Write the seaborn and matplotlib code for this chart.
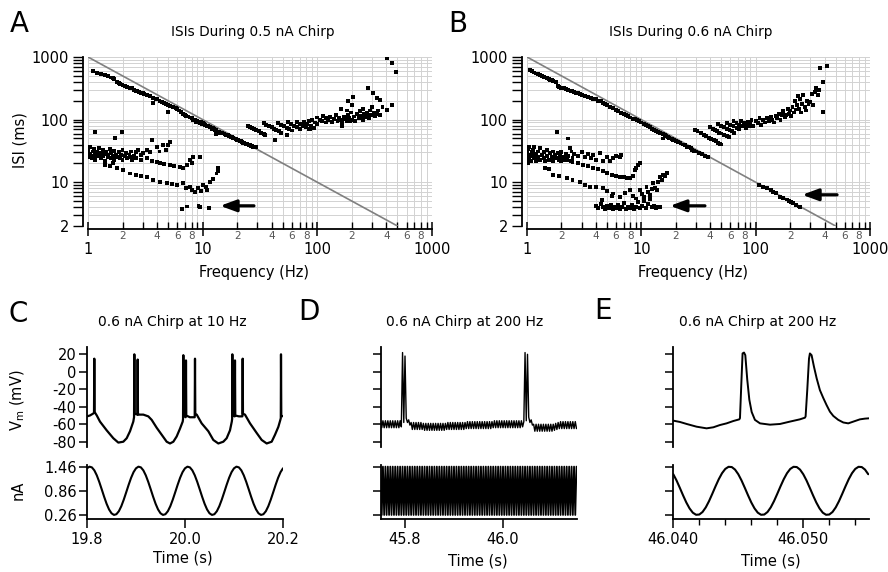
import numpy as np
import pandas as pd
import matplotlib
matplotlib.use("Agg")
import matplotlib.pyplot as plt
import matplotlib.ticker as mticker
import seaborn as sns

# ======================= DATA =======================
# Panel A - ISIs during 0.5 nA chirp: (frequency Hz, ISI ms)
a_band = [(1.1,600),(1.2,560),(1.25,545),(1.3,540),(1.4,510),(1.5,500),(1.6,470),(1.65,455),(1.7,440),
          (1.8,400),(1.85,390),(1.9,375),(2.0,360),(2.1,345),(2.2,330),(2.3,325),(2.4,315),(2.5,300),
          (2.6,290),(2.7,285),(2.8,275),(2.9,270),(3.0,262),(3.1,255),(3.3,245),(3.5,235),(3.7,225),
          (3.7,182),(3.9,215),(4.0,210),(4.2,200),(4.4,192),(4.6,185),(4.8,175),(5.0,170),(5.0,134),
          (5.2,165),(5.5,160),(5.8,152),(6.0,148),(6.2,140),(6.5,132),(6.8,125),(7.0,120),(7.2,115),
          (7.5,112),(7.8,108),(8.0,105),(8.2,100),(8.5,98),(8.7,90),(9.0,95),(9.3,92),(9.5,88),(9.7,92),
          (9.8,85),(10,88),(10.2,84),(10.5,82),(10.8,80),(11,80),(11.2,78),(11.5,76),(12,72),(12.2,74),
          (12.5,70),(12.8,68),(13,68),(13.2,66),(13.5,62),(13,58),(13.8,64),(14,64),(14.2,62),(14.5,62),
          (14.8,61),(15,60),(15.5,59),(16,57),(16.5,56),(17,54),(17.5,53),(18,52),(18.5,51),(19,50),
          (19.5,49),(20,48),(20.5,47),(21,46),(21.5,45),(22,44),(22.5,43),(23,42),(23.5,41.5),(24,41),
          (24.5,40.5),(25,40),(25.5,39),(26,39),(26.5,38),(27,38),(27.5,37),(28,37),(28.5,36.5),(29,36)]
a_right = [(25,80),(26,77),(27,74),(28,71),(29,69),(30,67),(31,65),(32,62),(33,60),(34,59),(35,57),
           (34,88),(36,83),(38,79),(40,75),(42,71),(44,68),(46,65),(48,62),
           (45,89),(48,83),(51,78),(54,74),(57,70),(60,67),
           (55,91),(59,85),(63,79),(67,75),(71,70),
           (66,91),(70,86),(75,80),(80,75),(84,71),
           (77,91),(82,85),(88,80),(94,74),
           (43,47),(54,57),(86,71),(163,79),(192,96),
           (85,95),(90,100),(95,90),(100,108),(100,85),(105,100),(110,95),(112,115),(118,90),(120,105),
           (125,98),(130,110),(135,92),(140,102),(145,120),(150,95),(155,108),(160,100),(165,88),
           (170,112),(175,104),(180,95),(185,118),(190,108),(195,130),(200,100),(210,112),(215,95),
           (220,122),(230,105),(235,135),(240,115),(250,100),(255,125),(260,110),(270,130),(275,118),
           (280,105),(290,140),(300,120),(310,130),(320,115),(330,125),(340,140),(350,120),(300,160),
           (250,150),(200,170),(180,140),(160,150),(205,230),(185,200),
           (278,316),(306,263),(330,218),(355,208),(370,161),(402,142),(450,171),
           (402,953),(444,793),(485,582)]
a_low = [(1.0,27),(1.0,30),(1.0,33),(1.02,25),(1.05,36),(1.05,28),(1.08,24),(1.1,31),(1.1,26),
         (1.13,34),(1.15,28),(1.15,23),(1.2,30),(1.2,26),(1.25,35),(1.25,27),(1.3,24),(1.3,29),
         (1.35,33),(1.35,26),(1.4,22),(1.4,28),(1.45,31),(1.5,25),(1.5,27),(1.55,34),(1.6,24),
         (1.6,29),(1.65,26),(1.7,23),(1.7,32),(1.75,27),(1.8,25),(1.85,30),(1.9,24),(1.95,27),
         (2.0,23),(2.0,33),(2.1,26),(2.15,29),(2.2,24),(2.3,27),(2.35,31),(2.4,23),(2.5,26),
         (1.15,63),(1.72,51),(1.98,63),(3.6,47),(5.0,40),
         (2.75,33),(3.0,29),(3.25,33),(3.5,30),(3.97,37),(4.2,31),(4.53,39),(4.8,33),(5.0,39),
         (5.2,44),(2.6,30),(2.9,27),
         (2.32,25.6),(2.6,24.5),(2.9,23),(3.25,24),(3.6,22),(4.0,21),(4.24,20),(4.6,19.5),(5.2,18.8),
         (5.6,18),(6.3,17.7),(6.8,17),(7.25,18.8),(7.7,22.5),(8.3,25.6),(8.0,20),(9.5,25.6),
         (1.4,19),(1.55,18),(1.66,20),(1.8,17),(2.03,15.6),(2.32,13.8),(2.6,13),(2.9,12.5),
         (3.25,12.2),(3.7,11),(4.24,10.1),(4.86,9.6),(5.4,9.3),(5.94,9.1),(6.8,9.6),(7.2,8.2),
         (7.7,8.5),(8.0,7.6),(8.6,7.1),(9.15,8.0),(9.6,7.3),(10.1,9.1),(10.6,8.4),(11.0,7.6),
         (11.6,10.1),(12.4,11.4),(13.2,13.8),(13.7,16.7),(13.5,15),
         (6.6,3.8),(7.25,4.1),(9.2,4.2),(9.5,4.0),(11.3,3.9)]

# Panel B - ISIs during 0.6 nA chirp: (frequency Hz, ISI ms)
b_band = [(1.06,620),(1.1,590),(1.15,565),(1.2,545),(1.25,530),(1.3,510),(1.35,495),(1.4,480),
          (1.45,470),(1.5,460),(1.55,445),(1.6,432),(1.65,425),(1.7,415),(1.8,400),(1.85,340),
          (1.9,332),(2.0,322),(2.1,315),(2.2,305),(2.3,300),(2.4,290),(2.5,285),(2.6,280),(2.7,270),
          (2.8,265),(2.9,258),(3.0,250),(3.2,240),(3.4,230),(3.6,220),(3.8,215),(4.0,210),(4.2,200),
          (4.4,195),(4.6,185),(4.8,178),(5.0,170),(5.3,160),(5.6,152),(6.0,142),(6.3,135),(6.6,129),
          (7.0,122),(7.3,117),(7.6,113),(8.0,108),(8.4,104),(8.8,101),(9.2,98),(9.6,94),(10,90),
          (10.5,86),(11,82),(11.5,78),(12,75),(12.5,72),(13,69),(13.5,66),(14,63),(14.5,61),(15,60),
          (15.5,58),(15.6,50),(16,56),(16.5,54),(17,53),(17.5,51),(18,50),(18.5,49),(19,48),
          (19.5,47),(20,46),(21,44),(22,42),(23,40),(24,39),(25,37),(26,36),(27,35),(28,33),(29,32),
          (30,31),(32,29.5),(34,28),(36,26.5),(38,25)]
b_right = [(29.5,68),(31,65),(33,61),(35,57),(37,54),(39,51),(41,49),(43,47),(45,45),(47,43),(49,41),
           (50,40),(40,75),(42,71),(44,68),(46,65),(48,62),(50,60),(53,57),(56,54),(58,52),
           (47,85),(50,80),(53,75),(56,71),(59,68),(62,65),(65,62),
           (56,89),(60,83),(64,78),(68,74),(72,70),
           (64,94),(68,88),(72,83),(77,78),(82,73),
           (74,95),(79,89),(84,83),(90,78),
           (85,92),(90,85),(92,100),(95,80),(100,95),(105,88),(108,105),(112,82),(115,98),(120,90),
           (125,105),(130,95),(135,110),(140,100),(145,90),(150,115),(155,105),(160,125),(165,100),
           (170,118),(175,135),(180,110),(185,120),(190,150),(195,125),(200,140),(205,115),(210,160),
           (215,130),(220,200),(225,145),(230,170),(235,240),(240,150),(245,210),(250,130),(255,180),
           (260,250),(270,160),(275,140),(280,200),(290,175),(300,190),(310,260),(320,170),(330,280),
           (340,320),(350,250),(360,300),(366,667),(417,707),(390,403),(390,134)]
b_tail = [(106,9.0),(115,8.5),(125,8.0),(135,7.5),(143,7.1),(150,6.8),(164,5.9),(175,5.6),(187,5.3),
          (195,5.0),(205,4.8),(214,4.6),(225,4.4),(237,4.1),(245,4.0)]
b_low = [(1.0,22),(1.0,25),(1.0,28),(1.0,31),(1.02,20),(1.02,34),(1.05,24),(1.05,27),(1.05,37),
         (1.08,22),(1.1,30),(1.1,26),(1.12,33),(1.15,24),(1.15,36),(1.2,28),(1.2,22),(1.25,31),
         (1.25,25),(1.3,35),(1.3,23),(1.35,27),(1.4,30),(1.4,24),(1.45,22),(1.5,33),(1.5,26),
         (1.55,23),(1.6,29),(1.65,25),(1.7,31),(1.7,22),(1.75,27),(1.8,24),(1.85,29),(1.9,23),
         (1.95,26),(2.0,30),(2.0,22),(2.1,25),(2.2,28),(2.25,23),(2.3,26),(2.4,22),(2.45,31),(2.5,24),
         (1.82,64),(2.3,50),
         (2.38,35),(2.6,28),(2.8,26),(3.0,30),(3.2,25),(3.4,28),(3.6,24),(3.8,27),(4.0,23),(4.35,29),
         (4.6,22),(5.0,25),(5.3,22),(5.6,24),(6.0,26),(6.5,25.6),(6.6,27),
         (2.08,22.6),(2.5,21),(2.8,20),(3.1,19),(3.4,18),(3.8,17),(4.2,16),(4.6,15),(5.0,14),(5.5,13),
         (6.0,12.5),(6.5,12.2),(7.0,12),(7.5,11.5),(7.95,11.5),(8.4,12.5),(8.8,15.6),(9.4,18.8),
         (9.8,20),(9.0,17),
         (1.44,16.7),(1.55,16),(1.7,13),(1.9,12.5),(2.22,11.5),(2.5,10.8),(2.9,10.1),(3.2,9.0),
         (3.56,8.5),(4.0,8.4),(4.65,8.0),(5.0,7.2),(4.5,5.2),(5.5,6.0),
         (4.0,4.2),(4.2,3.9),(4.4,4.5),(4.6,4.0),(4.8,3.8),(5.0,4.2),(5.2,3.9),(5.4,4.4),(5.6,3.8),
         (5.8,4.1),(6.0,3.9),(6.2,4.3),(6.5,3.8),(6.8,4.0),(7.0,4.6),(7.3,3.8),(7.6,4.1),(8.0,3.9),
         (8.3,4.4),(8.6,3.8),(9.0,4.0),(9.4,4.8),(9.8,3.9),(10.2,4.2),(10.6,5.0),(11,3.9),(11.5,4.5),
         (12,5.4),(12.5,4.0),(13,4.2),(13.5,3.9),(14,4.1),(14.5,4.0),
         (5.7,6.6),(6.5,5.9),(7.2,6.8),(7.95,7.4),(8.5,6.0),(9.0,5.5),(9.7,7.4),(10.2,6.4),(10.5,5.8),
         (11.1,8.5),(11.5,7.0),(12,6.2),(12.3,7.8),(12.7,9.6),(13.2,8.2),(13.6,7.4),(14,10),
         (14.6,12.2),(15.1,11),(15.6,13),(16.2,12.5),(16.7,13.9)]

# ISI = period reference line
ref_freq = [1, 500]
ref_isi = [1000, 2]

# Arrows (tail, tip) in data units
arrows_a = [((28, 4.2), (14.2, 4.2))]
arrows_b = [((36, 4.2), (17.8, 4.2)), ((515, 6.3), (255, 6.3))]

freq_major_ticks = [1, 10, 100, 1000]
isi_major_ticks = [2, 10, 100, 1000]

# Panel C - 0.6 nA chirp at 10 Hz: membrane potential (s, mV)
c_vm = [(19.800,-51),(19.806,-50),(19.812,-48),(19.8143,-47),(19.8149,15),(19.8155,-46),(19.8200,-50),
        (19.8265,-57),(19.8402,-67),(19.8537,-76),(19.8639,-81),(19.8741,-80),(19.8810,-76),
        (19.8878,-68),(19.8945,-57),(19.8960,-52),
        (19.8966,20),(19.8972,-48),(19.9028,-49),(19.9034,14),(19.9040,-48),
        (19.9047,-49),(19.9149,-49),(19.9251,-51),(19.9320,-55),(19.9422,-64),(19.9524,-72),
        (19.9626,-80),(19.9694,-82),(19.9762,-80),(19.9830,-74),(19.9898,-65),(19.9953,-57),
        (19.9960,-54),
        (19.9966,19),(19.9972,-50),(20.0014,-52),(20.0020,13),(20.0026,-50),(20.0100,-52),
        (20.0198,-52),(20.0204,15),(20.0210,-48),
        (20.0239,-49),(20.0340,-59),(20.0476,-68),(20.0578,-78),(20.0680,-82),(20.0782,-80),
        (20.0850,-76),(20.0918,-67),(20.0955,-57),(20.0962,-54),
        (20.0966,20),(20.0972,-50),(20.1014,-51),(20.1020,13),(20.1026,-50),(20.1100,-51),
        (20.1171,-51),(20.1177,15),(20.1183,-48),
        (20.1224,-49),(20.1327,-59),(20.1463,-70),(20.1565,-78),(20.1667,-82),(20.1769,-80),
        (20.1837,-72),(20.1905,-63),(20.1946,-55),(20.1955,-53),
        (20.1959,20),(20.1965,-50),(20.2000,-51)]
# Panel C - injected current, sampled every 5 ms from 19.800 s (nA)
c_t0 = 19.800
c_cur_ms = [0,5,10,15,20,25,30,35,40,45,50,55,60,65,70,75,80,85,90,95,
            100,105,110,115,120,125,130,135,140,145,150,155,160,165,170,175,180,185,190,195,
            200,205,210,215,220,225,230,235,240,245,250,255,260,265,270,275,280,285,290,295,
            300,305,310,315,320,325,330,335,340,345,350,355,360,365,370,375,380,385,390,395,
            400]
c_cur = [1.418,1.459,1.441,1.367,1.243,1.081,0.898,0.711,0.538,0.397,
         0.302,0.261,0.279,0.353,0.477,0.639,0.822,1.009,1.182,1.323,
         1.418,1.459,1.441,1.367,1.243,1.081,0.898,0.711,0.538,0.397,
         0.302,0.261,0.279,0.353,0.477,0.639,0.822,1.009,1.182,1.323,
         1.418,1.459,1.441,1.367,1.243,1.081,0.898,0.711,0.538,0.397,
         0.302,0.261,0.279,0.353,0.477,0.639,0.822,1.009,1.182,1.323,
         1.418,1.459,1.441,1.367,1.243,1.081,0.898,0.711,0.538,0.397,
         0.302,0.261,0.279,0.353,0.477,0.639,0.822,1.009,1.182,1.323,
         1.418]

# Panel D - 0.6 nA chirp at 200 Hz, samples every 2.5 ms from 45.750 s
d_t0 = 45.750
d_ms = [0,2.5,5,7.5,10,12.5,15,17.5,20,22.5,25,27.5,30,32.5,35,37.5,40,42.5,45,47.5,
        50,52.5,55,57.5,60,62.5,65,67.5,70,72.5,75,77.5,80,82.5,85,87.5,90,92.5,95,97.5,
        100,102.5,105,107.5,110,112.5,115,117.5,120,122.5,125,127.5,130,132.5,135,137.5,140,142.5,145,147.5,
        150,152.5,155,157.5,160,162.5,165,167.5,170,172.5,175,177.5,180,182.5,185,187.5,190,192.5,195,197.5,
        200,202.5,205,207.5,210,212.5,215,217.5,220,222.5,225,227.5,230,232.5,235,237.5,240,242.5,245,247.5,
        250,252.5,255,257.5,260,262.5,265,267.5,270,272.5,275,277.5,280,282.5,285,287.5,290,292.5,295,297.5,
        300,302.5,305,307.5,310,312.5,315,317.5,320,322.5,325,327.5,330,332.5,335,337.5,340,342.5,345,347.5,
        350,352.5,355,357.5,360,362.5,365,367.5,370,372.5,375,377.5,380,382.5,385,387.5,390,392.5,395,397.5,
        400]
d_vm = [-56,-64,-56,-64,-56,-64,-56,-64,-56,-64,
        -56,-64,-56,-64,-56,-64,-56,-63,22,-58,
        18,-53,-58,-55,-61,-58,-66,-58,-66,-58,
        -66,-58,-66,-58,-66,-59,-67,-59,-67,-59,
        -67,-59,-67,-59,-67,-59,-67,-59,-67,-59,
        -67,-59,-67,-59,-66,-58,-66,-58,-66,-58,
        -66,-58,-66,-58,-66,-58,-66,-58,-66,-58,
        -65,-57,-65,-57,-65,-57,-65,-57,-65,-57,
        -65,-57,-65,-57,-65,-57,-65,-57,-65,-57,
        -65,-57,-64,-56,-64,-56,-64,-56,-64,-56,
        -64,-56,-64,-56,-64,-56,-64,-56,-64,-56,
        -64,-56,-64,-56,-64,-56,-63,-57,22,-56,
        20,-52,-58,-55,-61,-60,-68,-60,-68,-60,
        -68,-60,-68,-60,-68,-60,-68,-60,-68,-60,
        -68,-60,-67,-59,-66,-58,-65,-57,-65,-57,
        -65,-57,-65,-57,-65,-57,-65,-57,-65,-57,
        -65]
d_cur = [1.46,0.26,1.46,0.26,1.46,0.26,1.46,0.26,1.46,0.26,1.46,0.26,1.46,0.26,1.46,0.26,1.46,0.26,1.46,0.26,
         1.46,0.26,1.46,0.26,1.46,0.26,1.46,0.26,1.46,0.26,1.46,0.26,1.46,0.26,1.46,0.26,1.46,0.26,1.46,0.26,
         1.46,0.26,1.46,0.26,1.46,0.26,1.46,0.26,1.46,0.26,1.46,0.26,1.46,0.26,1.46,0.26,1.46,0.26,1.46,0.26,
         1.46,0.26,1.46,0.26,1.46,0.26,1.46,0.26,1.46,0.26,1.46,0.26,1.46,0.26,1.46,0.26,1.46,0.26,1.46,0.26,
         1.46,0.26,1.46,0.26,1.46,0.26,1.46,0.26,1.46,0.26,1.46,0.26,1.46,0.26,1.46,0.26,1.46,0.26,1.46,0.26,
         1.46,0.26,1.46,0.26,1.46,0.26,1.46,0.26,1.46,0.26,1.46,0.26,1.46,0.26,1.46,0.26,1.46,0.26,1.46,0.26,
         1.46,0.26,1.46,0.26,1.46,0.26,1.46,0.26,1.46,0.26,1.46,0.26,1.46,0.26,1.46,0.26,1.46,0.26,1.46,0.26,
         1.46,0.26,1.46,0.26,1.46,0.26,1.46,0.26,1.46,0.26,1.46,0.26,1.46,0.26,1.46,0.26,1.46,0.26,1.46,0.26,
         1.46]

# Panel E - zoom of D, offsets in ms from 46.040 s
e_t0 = 46.040
e_vm = [(0,-55.9),(0.51,-57.4),(1.03,-59.7),(1.79,-62.8),(2.56,-64.7),(3.08,-63.5),(3.59,-60.9),
        (4.10,-59.0),(4.62,-56.3),(5.08,-54.4),(5.13,-53),(5.23,-15),(5.33,21),(5.44,22),(5.54,19),
        (5.69,-9),(5.85,-32),(6.03,-46),(6.28,-55),(6.67,-59),(7.44,-60.5),(8.21,-59.7),(8.97,-57),
        (9.74,-54.4),(10.13,-52.5),(10.18,-51),(10.31,-20),(10.44,15),(10.51,21),(10.64,19),
        (10.82,6),(11.03,-7.5),(11.28,-21),(11.54,-30),(11.79,-38),(12.05,-45.6),(12.31,-50.5),
        (12.69,-55),(13.08,-58),(13.46,-59),(13.85,-57),(14.36,-54.4),(14.74,-53.6),(15.08,-53.2)]
e_cur_ms = [0,0.25,0.5,0.75,1,1.25,1.5,1.75,2,2.25,2.5,2.75,3,3.25,3.5,3.75,4,4.25,4.5,4.75,
            5,5.25,5.5,5.75,6,6.25,6.5,6.75,7,7.25,7.5,7.75,8,8.25,8.5,8.75,9,9.25,9.5,9.75,
            10,10.25,10.5,10.75,11,11.25,11.5,11.75,12,12.25,12.5,12.75,13,13.25,13.5,13.75,14,14.25,14.5,14.75,
            15]
e_cur = [1.271,1.116,0.935,0.748,0.571,0.423,0.317,0.265,0.271,0.334,
         0.449,0.604,0.785,0.972,1.149,1.297,1.403,1.455,1.449,1.386,
         1.271,1.116,0.935,0.748,0.571,0.423,0.317,0.265,0.271,0.334,
         0.449,0.604,0.785,0.972,1.149,1.297,1.403,1.455,1.449,1.386,
         1.271,1.116,0.935,0.748,0.571,0.423,0.317,0.265,0.271,0.334,
         0.449,0.604,0.785,0.972,1.149,1.297,1.403,1.455,1.449,1.386,
         1.271]

vm_ticks = [-80, -60, -40, -20, 0, 20]
cur_ticks = [0.26, 0.86, 1.46]
c_xticks = [19.8, 20.0, 20.2]
d_xticks = [45.8, 46.0]
e_xticks = [46.040, 46.050]
e_xminor = [46.042, 46.044, 46.046, 46.048, 46.052, 46.054]

# ======================= STYLE =======================
sns.set_theme(style="ticks", rc={"axes.edgecolor": "black", "xtick.color": "black",
                                 "ytick.color": "black", "text.color": "black"})
plt.rcParams["font.family"] = ["DejaVu Sans"]
plt.rcParams["axes.unicode_minus"] = False

W, H = 888, 572
fig = plt.figure(figsize=(W / 100, H / 100), dpi=100)
fig.patch.set_facecolor("white")


def add_ax(l, t, r, b):
    return fig.add_axes([l / W, 1 - b / H, (r - l) / W, (b - t) / H])


def ftext(x, y, s, **kw):
    fig.text(x / W, 1 - y / H, s, **kw)


def minor_label(v, pos):
    if v <= 0:
        return ""
    k = int(round(v / 10 ** np.floor(np.log10(v) + 1e-9)))
    return str(k) if k in (2, 4, 6, 8) else ""


log_subs = [2, 3, 4, 5, 6, 7, 8, 9]


def draw_isi(ax, groups, arrows):
    pts = pd.DataFrame([p for g in groups for p in g], columns=["freq", "isi"])
    ref = pd.DataFrame({"freq": ref_freq, "isi": ref_isi})
    ax.set_xscale("log")
    ax.set_yscale("log")
    sns.lineplot(data=ref, x="freq", y="isi", ax=ax, color="#808080", lw=1.2, zorder=2)
    sns.scatterplot(data=pts, x="freq", y="isi", ax=ax, marker="s", s=8, color="black",
                    edgecolor="none", linewidth=0, zorder=3)
    for tail, tip in arrows:
        ax.annotate("", xy=tip, xytext=tail,
                    arrowprops=dict(arrowstyle="-|>,head_length=0.6,head_width=0.22",
                                    color="black", lw=2.3, shrinkA=0, shrinkB=0,
                                    mutation_scale=16))
    ax.set_xlabel("")
    ax.set_ylabel("")
    ax.set_xlim(1, 1000)
    ax.set_ylim(2, 1000)
    ax.xaxis.set_major_locator(mticker.FixedLocator(freq_major_ticks))
    ax.xaxis.set_minor_locator(mticker.LogLocator(base=10, subs=log_subs, numticks=40))
    ax.xaxis.set_major_formatter(mticker.FuncFormatter(lambda v, p: f"{v:g}"))
    ax.xaxis.set_minor_formatter(mticker.FuncFormatter(minor_label))
    ax.yaxis.set_major_locator(mticker.FixedLocator(isi_major_ticks))
    ax.yaxis.set_minor_locator(mticker.LogLocator(base=10, subs=log_subs, numticks=40))
    ax.yaxis.set_major_formatter(mticker.FuncFormatter(lambda v, p: f"{v:g}"))
    ax.yaxis.set_minor_formatter(mticker.NullFormatter())
    ax.grid(True, which="both", color="#d2d2d2", lw=0.7)
    ax.set_axisbelow(True)
    for s in ("top", "right"):
        ax.spines[s].set_visible(False)
    ax.spines["left"].set_position(("outward", 3.6))
    ax.spines["bottom"].set_position(("outward", 2.4))
    for s in ("left", "bottom"):
        ax.spines[s].set_linewidth(1.3)
    ax.tick_params(axis="x", which="major", direction="inout", length=10, width=1.1, pad=4,
                   labelsize=10.5)
    ax.tick_params(axis="x", which="minor", direction="in", length=5, width=1.0, pad=1.5,
                   labelsize=7.5, labelcolor="#555555")
    ax.tick_params(axis="y", which="both", direction="out", length=7.2, width=1.0, pad=3,
                   labelsize=10.5)


def draw_top(ax, t, v, xlim, lw, labels):
    sns.lineplot(x=t, y=v, ax=ax, color="black", lw=lw, estimator=None, sort=False)
    ax.set_xlim(xlim)
    ax.set_ylim(-85.7, 28.7)
    ax.set_xlabel("")
    ax.set_ylabel("")
    ax.yaxis.set_major_locator(mticker.FixedLocator(vm_ticks))
    ax.yaxis.set_major_formatter(mticker.FuncFormatter(lambda v, p: f"{v:g}"))
    for s in ("top", "right", "bottom"):
        ax.spines[s].set_visible(False)
    ax.spines["left"].set_linewidth(1.3)
    ax.set_xticks([])
    ax.tick_params(axis="y", direction="out", length=6, width=1.1, pad=1.5,
                   labelsize=10.5, labelleft=labels)


def draw_bottom(ax, t, v, xlim, lw, labels, xticks, fmt, xminor=None):
    sns.lineplot(x=t, y=v, ax=ax, color="black", lw=lw, estimator=None, sort=False)
    ax.set_xlim(xlim)
    ax.set_ylim(0.16, 1.50)
    ax.set_xlabel("")
    ax.set_ylabel("")
    ax.yaxis.set_major_locator(mticker.FixedLocator(cur_ticks))
    ax.yaxis.set_major_formatter(mticker.FormatStrFormatter("%.2f"))
    ax.xaxis.set_major_locator(mticker.FixedLocator(xticks))
    ax.xaxis.set_major_formatter(mticker.FormatStrFormatter(fmt))
    if xminor is not None:
        ax.xaxis.set_minor_locator(mticker.FixedLocator(xminor))
        ax.tick_params(axis="x", which="minor", direction="out", length=4, width=1.0)
    for s in ("top", "right"):
        ax.spines[s].set_visible(False)
    for s in ("left", "bottom"):
        ax.spines[s].set_linewidth(1.3)
    ax.tick_params(axis="y", direction="out", length=6, width=1.1, pad=1.5,
                   labelsize=10.5, labelleft=labels)
    ax.tick_params(axis="x", which="major", direction="out", length=6.5, width=1.1, pad=3,
                   labelsize=10.5)


# ---------- Panels A and B ----------
axA = add_ax(88, 57, 432, 226)
draw_isi(axA, [a_band, a_right, a_low], arrows_a)
axB = add_ax(527, 57, 870, 226)
draw_isi(axB, [b_band, b_right, b_tail, b_low], arrows_b)

# ---------- Panels C, D, E ----------
c_t = [p[0] for p in c_vm]
c_v = [p[1] for p in c_vm]
c_cur_t = [c_t0 + m / 1000 for m in c_cur_ms]
d_t = [d_t0 + m / 1000 for m in d_ms]
e_t = [e_t0 + p[0] / 1000 for p in e_vm]
e_v = [p[1] for p in e_vm]
e_cur_t = [e_t0 + m / 1000 for m in e_cur_ms]

c_xlim = (19.8, 20.2)
d_xlim = (45.75, 46.15)
e_xlim = (46.040, 46.05508)

axC1 = add_ax(87, 346.7, 283, 446.7)
draw_top(axC1, c_t, c_v, c_xlim, 1.6, True)
axC2 = add_ax(87, 465, 283, 519)
draw_bottom(axC2, c_cur_t, c_cur, c_xlim, 1.5, True, c_xticks, "%.1f")

axD1 = add_ax(380.5, 346.7, 576.5, 446.7)
draw_top(axD1, d_t, d_vm, d_xlim, 1.0, False)
axD2 = add_ax(380.5, 465, 576.5, 519)
draw_bottom(axD2, d_t, d_cur, d_xlim, 1.3, False, d_xticks, "%.1f")

axE1 = add_ax(673.3, 346.7, 869.3, 446.7)
draw_top(axE1, e_t, e_v, e_xlim, 1.4, False)
axE2 = add_ax(673.3, 465, 869.3, 519)
draw_bottom(axE2, e_cur_t, e_cur, e_xlim, 1.5, False, e_xticks, "%.3f", e_xminor)

# ---------- Text ----------
ftext(10, 24, "A", fontsize=20, ha="left", va="center")
ftext(448, 24, "B", fontsize=20, ha="left", va="center")
ftext(8, 314, "C", fontsize=20, ha="left", va="center")
ftext(298, 312, "D", fontsize=20, ha="left", va="center")
ftext(594, 311, "E", fontsize=20, ha="left", va="center")

ftext(253, 32, "ISIs During 0.5 nA Chirp", fontsize=9.8, ha="center", va="center")
ftext(691, 32, "ISIs During 0.6 nA Chirp", fontsize=9.8, ha="center", va="center")
ftext(172, 322, "0.6 nA Chirp at 10 Hz", fontsize=10, ha="center", va="center")
ftext(465, 322, "0.6 nA Chirp at 200 Hz", fontsize=10, ha="center", va="center")
ftext(758, 322, "0.6 nA Chirp at 200 Hz", fontsize=10, ha="center", va="center")

ftext(20, 140, "ISI (ms)", fontsize=10.5, rotation=90, ha="center", va="center")
ftext(254, 272, "Frequency (Hz)", fontsize=10.5, ha="center", va="center")
ftext(693, 272, "Frequency (Hz)", fontsize=10.5, ha="center", va="center")
ftext(18, 400, r"V$_\mathregular{m}$ (mV)", fontsize=10.5, rotation=90, ha="center", va="center")
ftext(18, 490, "nA", fontsize=10.5, rotation=90, ha="center", va="center")
ftext(183, 558, "Time (s)", fontsize=10.5, ha="center", va="center")
ftext(478, 561, "Time (s)", fontsize=10.5, ha="center", va="center")
ftext(771, 561, "Time (s)", fontsize=10.5, ha="center", va="center")

fig.savefig("out.png", dpi=100, facecolor="white")
